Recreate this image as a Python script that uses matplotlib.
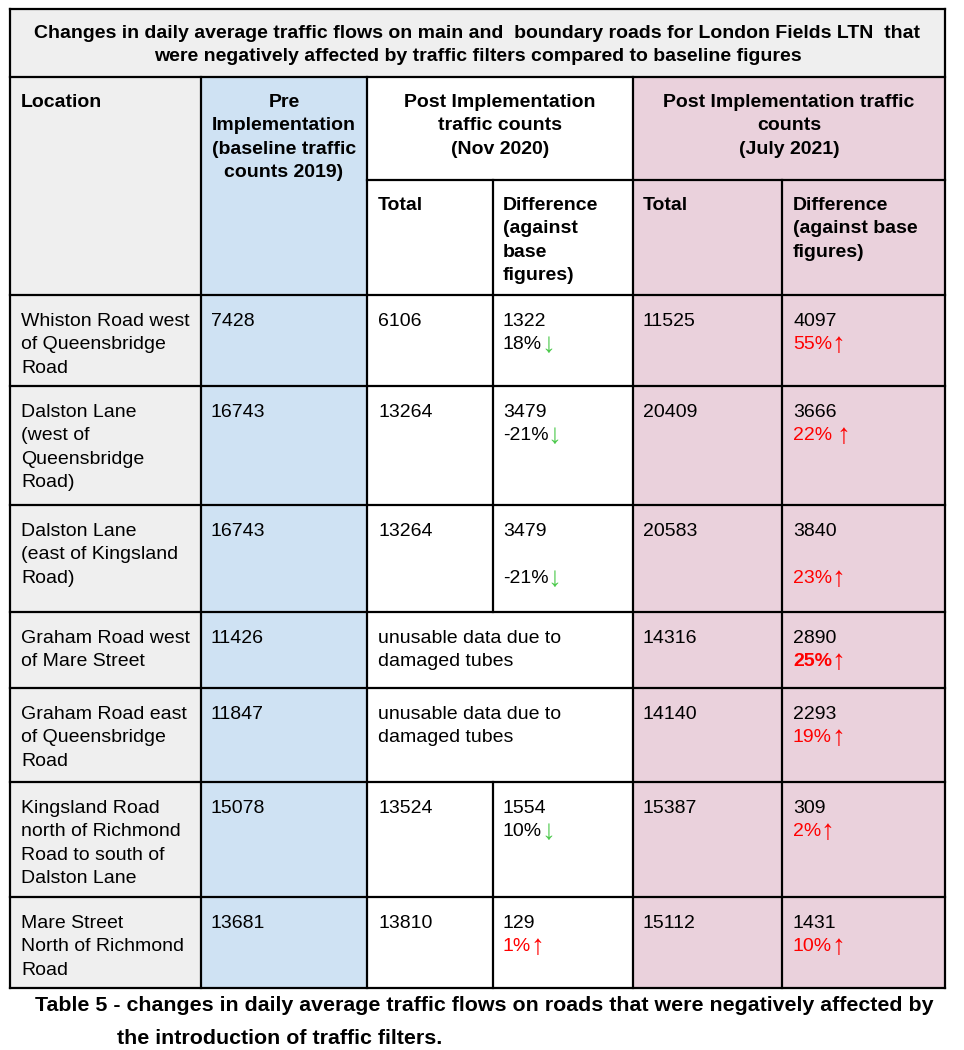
import matplotlib
matplotlib.use('Agg')
import matplotlib.pyplot as plt
from matplotlib.patches import Rectangle

plt.rcParams['font.family'] = ['Liberation Sans', 'DejaVu Sans']

# ------------ data -------------
title_lines = ['Changes in daily average traffic flows on main and  boundary roads for London Fields LTN  that',
               'were negatively affected by traffic filters compared to baseline figures']
locations = [['Whiston Road west', 'of Queensbridge', 'Road'],
             ['Dalston Lane', '(west of', 'Queensbridge', 'Road)'],
             ['Dalston Lane', '(east of Kingsland', 'Road)'],
             ['Graham Road west', 'of Mare Street'],
             ['Graham Road east', 'of Queensbridge', 'Road'],
             ['Kingsland Road', 'north of Richmond', 'Road to south of', 'Dalston Lane'],
             ['Mare Street', 'North of Richmond', 'Road']]
pre_counts = [7428, 16743, 16743, 11426, 11847, 15078, 13681]
nov_totals = [6106, 13264, 13264, None, None, 13524, 13810]
nov_diffs = [1322, 3479, 3479, None, None, 1554, 129]
nov_pcts = ['18%', '-21%', '-21%', None, None, '10%', '1%']
nov_dirs = ['down', 'down', 'down', None, None, 'down', 'up']
july_totals = [11525, 20409, 20583, 14316, 14140, 15387, 15112]
july_diffs = [4097, 3666, 3840, 2890, 2293, 309, 1431]
july_pcts = ['55%', '22% ', '23%', '25%', '19%', '2%', '10%']
missing_text = ['unusable data due to', 'damaged tubes']
caption = ['Table 5 - changes in daily average traffic flows on roads that were negatively affected by',
           'the introduction of traffic filters.']

# ------------ layout -------------
col_x = [10, 201, 367, 493, 633, 782, 945]
title_top, head_top, head_mid, head_bot = 9, 77, 180, 295
row_bot = [386, 505, 612, 688, 782, 897, 988]
# rows where the % sits one blank line lower
pct_gap = [1, 1, 2, 1, 1, 1, 1]

GREY, BLUE, PINK = '#efefef', '#cfe2f3', '#ead1dc'
RED, GREEN = '#ff0000', '#4dc94d'
FS = 14
LH = 23.3
LW = 1.6

fig = plt.figure(figsize=(9.64, 10.5), dpi=100)
ax = fig.add_axes([0, 0, 1, 1])
ax.set_xlim(0, 964)
ax.set_ylim(1050, 0)
ax.axis('off')
bottom = row_bot[-1]

# backgrounds
ax.add_patch(Rectangle((col_x[0], title_top), col_x[-1] - col_x[0], head_top - title_top, color=GREY, lw=0))
ax.add_patch(Rectangle((col_x[0], head_top), col_x[1] - col_x[0], bottom - head_top, color=GREY, lw=0))
ax.add_patch(Rectangle((col_x[1], head_top), col_x[2] - col_x[1], bottom - head_top, color=BLUE, lw=0))
ax.add_patch(Rectangle((col_x[4], head_top), col_x[6] - col_x[4], bottom - head_top, color=PINK, lw=0))

# grid lines
def hl(y, x0, x1):
    ax.plot([x0, x1], [y, y], color='black', lw=LW, solid_capstyle='projecting')

def vl(x, y0, y1):
    ax.plot([x, x], [y0, y1], color='black', lw=LW, solid_capstyle='projecting')

hl(title_top, col_x[0], col_x[-1])
hl(head_top, col_x[0], col_x[-1])
hl(head_mid, col_x[2], col_x[-1])
hl(head_bot, col_x[0], col_x[-1])
for y in row_bot:
    hl(y, col_x[0], col_x[-1])
vl(col_x[0], title_top, bottom)
vl(col_x[-1], title_top, bottom)
for x in [col_x[1], col_x[2], col_x[4]]:
    vl(x, head_top, bottom)
vl(col_x[5], head_mid, bottom)
tops = [head_bot] + row_bot[:-1]
vl(col_x[3], head_mid, head_bot)
for i, t in enumerate(tops):
    if nov_totals[i] is not None:
        vl(col_x[3], t, row_bot[i])

# title
for k, s in enumerate(title_lines):
    ax.text((col_x[0] + col_x[-1]) / 2, title_top + 29 + k * LH, s, ha='center', va='baseline',
            fontsize=14, fontweight='bold')

# headers
def lines(x, y, items, ha='left', **kw):
    for k, s in enumerate(items):
        ax.text(x, y + k * LH, s, ha=ha, va='baseline', fontsize=FS, **kw)

hb = head_top + 30
lines(col_x[0] + 11, hb, ['Location'], fontweight='bold')
lines((col_x[1] + col_x[2]) / 2, hb, ['Pre', 'Implementation', '(baseline traffic', 'counts 2019)'],
      ha='center', fontweight='bold')
lines((col_x[2] + col_x[4]) / 2, hb, ['Post Implementation', 'traffic counts', '(Nov 2020)'],
      ha='center', fontweight='bold')
lines((col_x[4] + col_x[6]) / 2, hb, ['Post Implementation traffic', 'counts', '(July 2021)'],
      ha='center', fontweight='bold')
sb = head_mid + 30
lines(col_x[2] + 11, sb, ['Total'], fontweight='bold')
lines(col_x[3] + 10, sb, ['Difference', '(against', 'base', 'figures)'], fontweight='bold')
lines(col_x[4] + 10, sb, ['Total'], fontweight='bold')
lines(col_x[5] + 11, sb, ['Difference', '(against base', 'figures)'], fontweight='bold')

renderer = fig.canvas.get_renderer()

def pct_text(x, y, s, direction, color_all, weight='normal'):
    t = ax.text(x, y, s, ha='left', va='baseline', fontsize=FS, color=color_all, fontweight=weight)
    w = t.get_window_extent(renderer).width
    arrow = '\u2193' if direction == 'down' else '\u2191'
    acol = GREEN if direction == 'down' else color_all
    ax.text(x + w - 1, y + 3, arrow, ha='left', va='baseline', fontsize=20, color=acol)

# body rows
for i, t in enumerate(tops):
    b = t + 31
    lines(col_x[0] + 11, b, locations[i])
    lines(col_x[1] + 10, b, [str(pre_counts[i])])
    if nov_totals[i] is None:
        lines(col_x[2] + 11, b, missing_text)
    else:
        lines(col_x[2] + 11, b, [str(nov_totals[i])])
        lines(col_x[3] + 10, b, [str(nov_diffs[i])])
        c = 'black' if nov_dirs[i] == 'down' else RED
        pct_text(col_x[3] + 10, b + pct_gap[i] * LH, nov_pcts[i], nov_dirs[i], c)
    lines(col_x[4] + 10, b, [str(july_totals[i])])
    lines(col_x[5] + 11, b, [str(july_diffs[i])])
    wt = 'bold' if i == 3 else 'normal'
    pct_text(col_x[5] + 11, b + pct_gap[i] * LH, july_pcts[i], 'up', RED, wt)

# caption
ax.text(35, 1011, caption[0], ha='left', va='baseline', fontsize=15.4, fontweight='bold')
ax.text(117, 1044, caption[1], ha='left', va='baseline', fontsize=15.4, fontweight='bold')

fig.savefig('out.png', dpi=100)
